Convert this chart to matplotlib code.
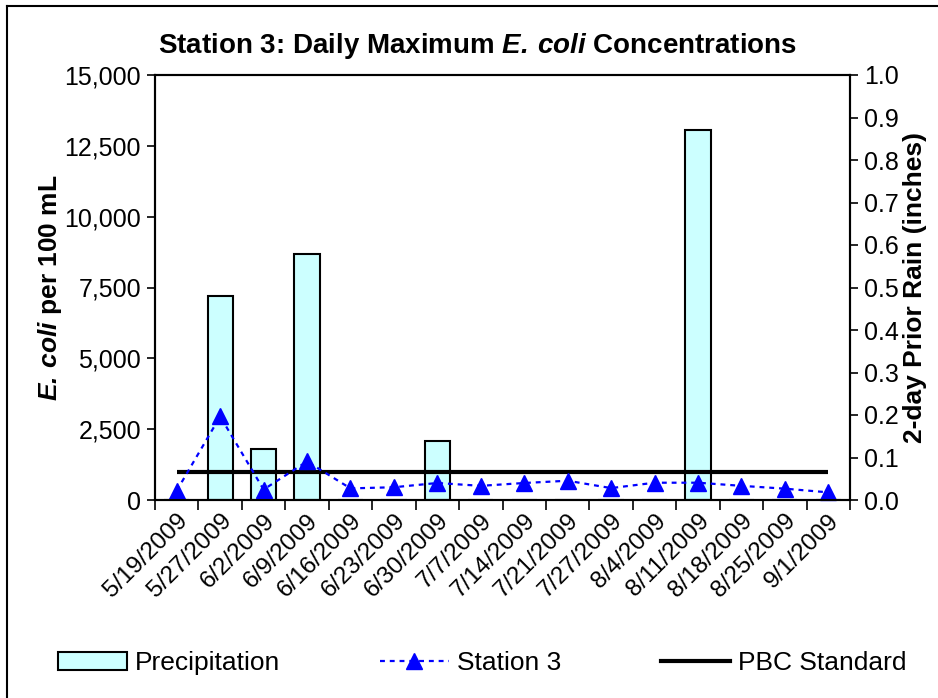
import matplotlib
matplotlib.use("Agg")
import matplotlib.pyplot as plt
from matplotlib.patches import Patch
from matplotlib.lines import Line2D
import numpy as np

plt.rcParams['font.family'] = ['Liberation Sans', 'DejaVu Sans']
plt.rcParams['mathtext.fontset'] = 'custom'
plt.rcParams['mathtext.rm'] = 'Liberation Sans:bold'
plt.rcParams['mathtext.it'] = 'Liberation Sans:italic:bold'
plt.rcParams['mathtext.bf'] = 'Liberation Sans:bold'
plt.rcParams['mathtext.bfit'] = 'Liberation Sans:italic:bold'

# --- data ---
dates = ['5/19/2009', '5/27/2009', '6/2/2009', '6/9/2009', '6/16/2009', '6/23/2009',
         '6/30/2009', '7/7/2009', '7/14/2009', '7/21/2009', '7/27/2009', '8/4/2009',
         '8/11/2009', '8/18/2009', '8/25/2009', '9/1/2009']
ecoli = [330, 2950, 370, 1360, 410, 450, 600, 500, 600, 680, 420, 610, 610, 500, 400, 270]
precip = [0, 0.48, 0.12, 0.58, 0, 0, 0.14, 0, 0, 0, 0, 0, 0.87, 0, 0, 0]
pbc = [1000] * len(dates)

x = np.arange(len(dates))

fig = plt.figure(figsize=(9.38, 6.98), dpi=100)
ax = fig.add_axes([155 / 938, 1 - 500 / 698, 695 / 938, 425 / 698])
ax2 = ax.twinx()

# bars on the right axis, kept behind the lines
ax2.bar(x, precip, width=0.58, color='#CCFFFF', edgecolor='black', linewidth=1.5)
ax.set_zorder(ax2.get_zorder() + 1)
ax.patch.set_visible(False)

ax.plot(x, pbc, color='black', lw=3, solid_capstyle='butt')
ax.plot(x, ecoli, color='#0000FF', lw=1.6, dashes=(2.2, 2.2), marker='^',
        markersize=12, markeredgecolor='#0000FF', clip_on=False)

ax.set_xlim(-0.5, len(dates) - 0.5)
ax.set_ylim(0, 15000)
ax2.set_ylim(0, 1.0)

ax.set_yticks(np.arange(0, 15001, 2500))
ax.set_yticklabels(['{:,}'.format(v) for v in range(0, 15001, 2500)])
ax2.set_yticks(np.arange(0, 1.01, 0.1))
ax2.set_yticklabels(['%.1f' % v for v in np.arange(0, 1.01, 0.1)])

ax.set_xticks(np.arange(-0.5, len(dates), 1.0))
ax.set_xticklabels([])
ax.set_xticks(x, minor=True)
ax.set_xticklabels(dates, minor=True, rotation=45, ha='right', va='top',
                   rotation_mode='anchor', fontsize=17.5)
ax.tick_params(axis='x', which='minor', length=0, pad=7)
ax.tick_params(axis='x', which='major', length=7, width=1.2, direction='out')
ax.tick_params(axis='y', labelsize=18, length=6, width=1.2, direction='out', pad=4)
ax2.tick_params(axis='y', labelsize=18, length=6, width=1.2, direction='out', pad=4)

for a in (ax, ax2):
    for s in a.spines.values():
        s.set_linewidth(1.5)

ax.set_ylabel(r'$\mathbfit{E.}\,\mathbfit{coli}$ per 100 mL', fontsize=19,
              fontweight='bold', labelpad=0)
ax2.set_ylabel('2-day Prior Rain (inches)', fontsize=19, fontweight='bold', labelpad=3)
fig.text(477 / 938, 1 - 46 / 698,
         r'Station 3: Daily Maximum $\mathbfit{E.}\,\mathbfit{coli}$ Concentrations',
         fontsize=20, fontweight='bold', ha='center', va='center')

handles = [Patch(facecolor='#CCFFFF', edgecolor='black', linewidth=1.5),
           Line2D([], [], color='#0000FF', lw=1.6, dashes=(2.2, 2.2), marker='^',
                  markersize=12),
           Line2D([], [], color='black', lw=3)]
fig.legend(handles, ['Precipitation', 'Station 3', 'PBC Standard'], loc='center',
           bbox_to_anchor=(0.5 + 13 / 938, 1 - 663 / 698), ncol=3, frameon=False,
           fontsize=19, handlelength=2.6, columnspacing=3.8, handletextpad=0.3)

# outer chart frame (only top and left edges are visible)
fig.add_artist(Line2D([7 / 938, 7 / 938], [0, 1 - 6 / 698], color='black', lw=1.5,
                      transform=fig.transFigure))
fig.add_artist(Line2D([7 / 938, 1], [1 - 6 / 698, 1 - 6 / 698], color='black', lw=1.5,
                      transform=fig.transFigure))

fig.savefig('out.png', dpi=100)
